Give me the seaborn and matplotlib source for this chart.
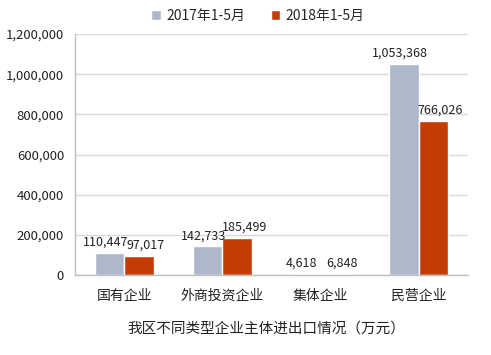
import pandas as pd
import matplotlib
matplotlib.use("Agg")
import matplotlib.pyplot as plt
import seaborn as sns
from matplotlib.ticker import FuncFormatter, FixedLocator

categories = ["国有企业", "外商投资企业", "集体企业", "民营企业"]
series_names = ["2017年1-5月", "2018年1-5月"]
values_2017 = [110447, 142733, 4618, 1053368]
values_2018 = [97017, 185499, 6848, 766026]
colors = ["#ADB8CA", "#C43C06"]

df = pd.DataFrame({
    "category": categories * 2,
    "period": [series_names[0]] * 4 + [series_names[1]] * 4,
    "value": values_2017 + values_2018,
})

sns.set_style("white")
plt.rcParams["font.family"] = ["Noto Sans CJK SC", "DejaVu Sans"]

fig = plt.figure(figsize=(4.91, 3.55), dpi=100)
ax = fig.add_axes([0.153, 0.225, 0.800, 0.679])

sns.barplot(data=df, x="category", y="value", hue="period", order=categories,
            hue_order=series_names, palette=colors, width=0.6, gap=0,
            saturation=1, ax=ax, legend=True)

# value labels, nudged sideways a bit like the original so neighbours don't collide
nudges = [-3, 5]
for container, dx in zip(ax.containers, nudges):
    for bar, v in zip(container, container.datavalues):
        ax.annotate(f"{v:,.0f}", (bar.get_x() + bar.get_width() / 2, bar.get_height()),
                    xytext=(dx, 3), textcoords="offset points", ha="center", va="bottom",
                    fontsize=9, color="#222222")

ax.set_ylim(0, 1200000)
ax.set_xlim(-0.5, 3.5)
ax.set_yticks(range(0, 1200001, 200000))
ax.yaxis.set_major_formatter(FuncFormatter(lambda v, p: f"{v:,.0f}"))
ax.yaxis.grid(True, color="#D9D9D9", linewidth=1)
ax.set_axisbelow(True)
ax.tick_params(axis="y", length=0, labelsize=9.5, pad=8, colors="#222222")
ax.tick_params(axis="x", which="major", length=0, labelsize=10, pad=10, colors="#222222")
ax.xaxis.set_minor_locator(FixedLocator([-0.5, 0.5, 1.5, 2.5, 3.5]))
ax.tick_params(axis="x", which="minor", length=5, color="#BFBFBF", width=1)
ax.set_xlabel("")
ax.set_ylabel("")

for side in ["top", "right"]:
    ax.spines[side].set_visible(False)
for side in ["left", "bottom"]:
    ax.spines[side].set_color("#BFBFBF")
    ax.spines[side].set_linewidth(1)

handles, labels = ax.get_legend_handles_labels()
ax.legend(handles, labels, loc="upper center", bbox_to_anchor=(0.466, 1.155), ncol=2,
          frameon=False, fontsize=10, handlelength=0.7, handleheight=0.7,
          handletextpad=0.4, columnspacing=1.8)

fig.text(0.542, 0.075, "我区不同类型企业主体进出口情况（万元）", ha="center", va="center",
         fontsize=10.5, color="#222222")

fig.savefig("out.png", dpi=100)
